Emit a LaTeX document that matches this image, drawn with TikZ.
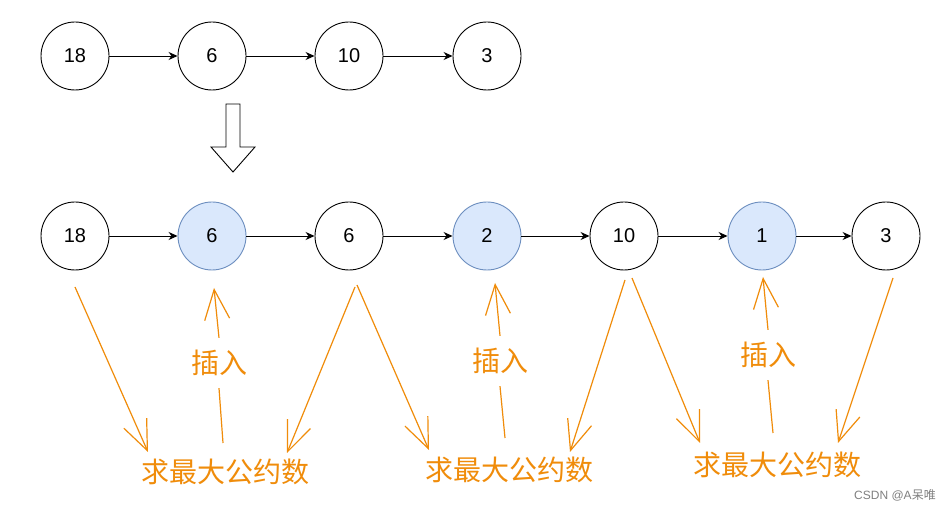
\documentclass[tikz,border=0pt]{standalone}
\usepackage{fontspec}
\setmainfont{Liberation Sans}
\newfontfamily\cjk{Noto Sans CJK SC}
\usetikzlibrary{arrows.meta}
\definecolor{orng}{RGB}{240,140,10}
\definecolor{bfill}{HTML}{DAE8FC}
\definecolor{bdraw}{HTML}{6C8EBF}
\begin{document}
\begin{tikzpicture}[x=1pt,y=-1pt,
  nd/.style={circle,draw=black,line width=0.9pt,minimum size=68pt,inner sep=0pt,font=\fontsize{20}{24}\selectfont},
  hi/.style={nd,fill=bfill,draw=bdraw},
  lnk/.style={line width=0.9pt,-{Stealth[length=9pt,width=8pt]}},
  oa/.style={draw=orng,line width=1.2pt,-{Straight Barb[length=30pt,width=25pt,line width=1.2pt]}},
  ol/.style={draw=orng,line width=1.2pt},
  olab/.style={text=orng,font=\cjk\fontsize{28}{30}\selectfont,inner sep=0pt},
  ilab/.style={olab,minimum height=50pt}
]
\useasboundingbox (0,0) rectangle (951,510);
\fill[white] (0,0) rectangle (951,510);
% top row
\node[nd] (a1) at (75,56) {18};
\node[nd] (a2) at (212,56) {6};
\node[nd] (a3) at (349,56) {10};
\node[nd] (a4) at (487,56) {3};
\draw[lnk] (a1) -- (a2);
\draw[lnk] (a2) -- (a3);
\draw[lnk] (a3) -- (a4);
% hollow arrow
\draw[line width=0.9pt,fill=white] (226,104) -- (240,104) -- (240,147) -- (255,147) -- (233,172) -- (211,147) -- (226,147) -- cycle;
% bottom row
\node[nd] (b1) at (75,236) {18};
\node[hi] (b2) at (212,236) {6};
\node[nd] (b3) at (349,236) {6};
\node[hi] (b4) at (487,236) {2};
\node[nd] (b5) at (624,236) {10};
\node[hi] (b6) at (762,236) {1};
\node[nd] (b7) at (886,236) {3};
\draw[lnk] (b1) -- (b2);
\draw[lnk] (b2) -- (b3);
\draw[lnk] (b3) -- (b4);
\draw[lnk] (b4) -- (b5);
\draw[lnk] (b5) -- (b6);
\draw[lnk] (b6) -- (b7);
% labels
\node[olab] (g1) at (225,472) {求最大公约数};
\node[olab] (g2) at (509,470) {求最大公约数};
\node[olab] (g3) at (777,465) {求最大公约数};
\node[ilab] (i1) at (219,363) {插入};
\node[ilab] (i2) at (500,361) {插入};
\node[ilab] (i3) at (768,355) {插入};
% coordinates
\coordinate (s1a) at (75,287);  \coordinate (e1a) at (148,452);
\coordinate (p1) at (223,443);  \coordinate (q1) at (214,288);
\coordinate (s1b) at (355,287); \coordinate (e1b) at (287,453);
\coordinate (s2a) at (357,285); \coordinate (e2a) at (429,450);
\coordinate (p2) at (505,438);  \coordinate (q2) at (495,283);
\coordinate (s2b) at (625,280); \coordinate (e2b) at (570,452);
\coordinate (s3a) at (632,278); \coordinate (e3a) at (700,443);
\coordinate (p3) at (773,433);  \coordinate (q3) at (763,277);
\coordinate (s3b) at (893,278); \coordinate (e3b) at (838,443);
% orange arrows
\draw[oa] (s1a) -- (e1a);
\draw[ol] (p1) -- (i1.south);
\draw[oa] (i1.north) -- (q1);
\draw[oa] (s1b) -- (e1b);
\draw[oa] (s2a) -- (e2a);
\draw[ol] (p2) -- (i2.south);
\draw[oa] (i2.north) -- (q2);
\draw[oa] (s2b) -- (e2b);
\draw[oa] (s3a) -- (e3a);
\draw[ol] (p3) -- (i3.south);
\draw[oa] (i3.north) -- (q3);
\draw[oa] (s3b) -- (e3b);
% watermark
\node[text=gray,font=\fontsize{12}{14}\selectfont,inner sep=0pt] (wm) at (895,495) {CSDN @A{\cjk 呆唯}};
\end{tikzpicture}
\end{document}
